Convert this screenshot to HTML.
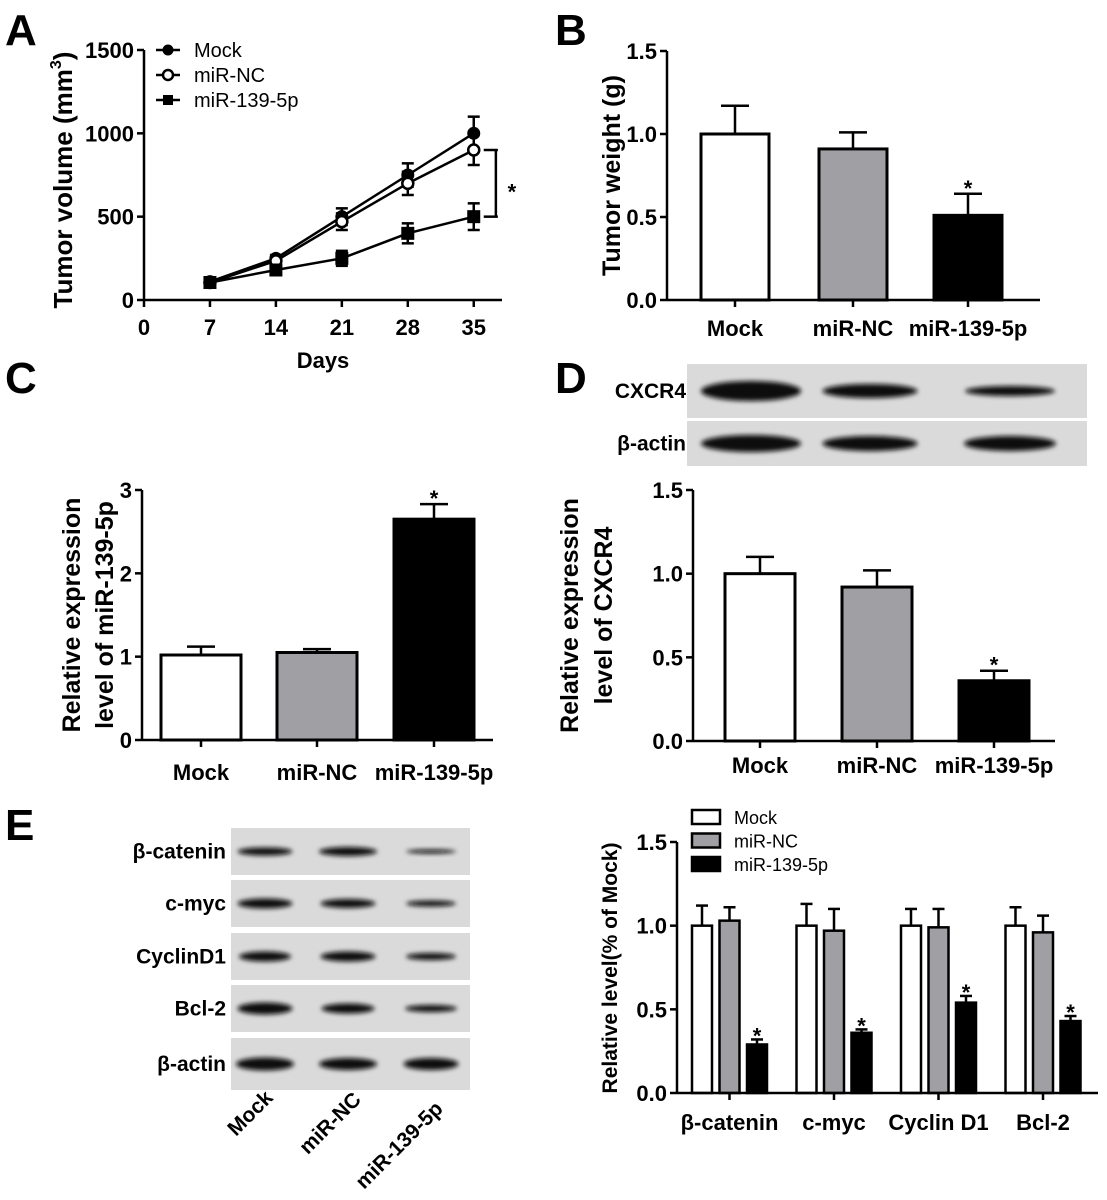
<!DOCTYPE html>
<html><head><meta charset="utf-8"><style>
html,body{margin:0;padding:0;background:#fff}
svg{display:block;font-family:"Liberation Sans",Arial,sans-serif}
.t{font-weight:bold;font-size:22px}
</style></head><body>
<svg id="fig" width="1107" height="1200" viewBox="0 0 1107 1200" xmlns="http://www.w3.org/2000/svg">
<defs><filter id="bl" x="-20%" y="-100%" width="140%" height="300%"><feGaussianBlur stdDeviation="2.5"/></filter></defs>
<g id="root"></g>
</svg>
<script>
// Panel A data
const daysA=[7,14,21,28,35];
const mockA=[110,250,500,750,1000];
const mockErrA=[0,20,50,70,100];
const ncA=[105,235,470,700,900];
const ncErrA=[0,20,50,70,90];
const mirA=[105,180,250,400,500];
const mirErrA=[0,20,45,60,80];
const xTicksA=[0,7,14,21,28,35];
const yTicksA=[0,500,1000,1500];
// Panel B
const groupsB=["Mock","miR-NC","miR-139-5p"];
const valsB=[1.0,0.91,0.51];
const errB=[0.17,0.10,0.13];
const yTicksB=[0.0,0.5,1.0,1.5];
// Panel C
const valsC=[1.02,1.05,2.65];
const errC=[0.10,0.04,0.18];
const yTicksC=[0,1,2,3];
// Panel D
const valsD=[1.0,0.92,0.36];
const errD=[0.10,0.10,0.06];
const yTicksD=[0.0,0.5,1.0,1.5];
// Panel E
const catsE=["β-catenin","c-myc","Cyclin D1","Bcl-2"];
const mockE=[1,1,1,1];
const mockErrE=[0.12,0.13,0.10,0.11];
const ncE=[1.03,0.97,0.99,0.96];
const ncErrE=[0.08,0.13,0.11,0.10];
const mirE=[0.29,0.36,0.54,0.43];
const mirErrE=[0.03,0.02,0.04,0.03];
const yTicksE=[0.0,0.5,1.0,1.5];

const NS="http://www.w3.org/2000/svg";
const root=document.getElementById('root');
function el(tag,attrs,parent,text){const e=document.createElementNS(NS,tag);for(const k in attrs)e.setAttribute(k,attrs[k]);if(text!==undefined)e.textContent=text;(parent||root).appendChild(e);return e;}
function line(x1,y1,x2,y2,p,w){return el('line',{x1,y1,x2,y2,stroke:'#000','stroke-width':w||2.5},p);}
function txt(x,y,s,p,extra){const a={x,y,'class':'t','text-anchor':'middle'};for(const k in extra)a[k]=extra[k];return el('text',a,p,s);}

[["A",5,45],["B",555,45],["C",5,393],["D",555,393],["E",5,840]].forEach(l=>{
 const t=el('text',{x:l[1],y:l[2],'font-size':'44','font-weight':'bold'},root,l[0]);
 
 
});

// ---------- Panel A ----------
{
const g=el('g',{});


const x0=144,x1=502,y0=300,y1=50;
const sx=v=>x0+v*(x1-x0)/38;
const sy=v=>y0-v*(y0-y1)/1500;
line(x0,y0,x1,y0,g);line(x0,y0+1,x0,y1,g);
xTicksA.forEach(v=>{line(sx(v),y0,sx(v),y0+7,g);txt(sx(v),y0+35,v,g);});
yTicksA.forEach(v=>{line(x0-7,sy(v),x0,sy(v),g);txt(x0-10,sy(v)+8,v,g,{'text-anchor':'end'});});
const xt=txt((x0+x1)/2,368,"Days",g,{'font-size':'25'});

const yt=el('text',{transform:'translate(72,180) rotate(-90)','text-anchor':'middle','font-size':'26','font-weight':'bold'},g);

yt.innerHTML='Tumor volume (mm<tspan dy="-11" font-size="16">3</tspan><tspan dy="11">)</tspan>';
const series=[[mockA,mockErrA,'circle'],[ncA,ncErrA,'open'],[mirA,mirErrA,'square']];
series.forEach((s,si)=>{
 const sg=el('g',{},g);
 
 
 el('polyline',{points:daysA.map((d,i)=>sx(d)+','+sy(s[0][i])).join(' '),fill:'none',stroke:'#000','stroke-width':2.5},sg);
 daysA.forEach((d,i)=>{
  const x=sx(d),y=sy(s[0][i]),e=s[1][i];
  if(e>0){line(x,sy(s[0][i]+e),x,sy(s[0][i]-e),sg);line(x-6,sy(s[0][i]+e),x+6,sy(s[0][i]+e),sg);line(x-6,sy(s[0][i]-e),x+6,sy(s[0][i]-e),sg);}
  let m;
  if(s[2]==='circle')m=el('circle',{cx:x,cy:y,r:6.5,fill:'#000'},sg);
  else if(s[2]==='open')m=el('circle',{cx:x,cy:y,r:5.5,fill:'#fff',stroke:'#000','stroke-width':2.5},sg);
  else m=el('rect',{x:x-6.5,y:y-6.5,width:13,height:13,fill:'#000'},sg);
  
  
 });
});
const bx=sx(36.5);
line(sx(35)+10,sy(ncA[4]),bx+10,sy(ncA[4]),g);line(sx(35)+10,sy(mirA[4]),bx+10,sy(mirA[4]),g);line(bx+8,sy(ncA[4]),bx+8,sy(mirA[4]),g);
txt(bx+24,sy((ncA[4]+mirA[4])/2)+16,"*",g,{'font-size':'30','font-weight':'normal'});
const lg=el('g',{},g);
["Mock","miR-NC","miR-139-5p"].forEach((n,i)=>{
 const y=50+i*25;line(156,y,180,y,lg);
 if(i===0)el('circle',{cx:168,cy:y,r:5.5,fill:'#000'},lg);
 else if(i===1)el('circle',{cx:168,cy:y,r:5,fill:'#fff',stroke:'#000','stroke-width':2.5},lg);
 else el('rect',{x:163,y:y-5,width:10,height:10,fill:'#000'},lg);
 const t=el('text',{x:194,y:y+7,'font-size':'20'},lg,n);
 
});
}

function barChart(name,opt){
 const g=el('g',{});
 
 
 const sy=v=>opt.y0-v*(opt.y0-opt.y1)/opt.ymax;
 opt.yTicks.forEach(v=>{line(opt.x0-7,sy(v),opt.x0,sy(v),g);txt(opt.x0-10,sy(v)+8,opt.fmt(v),g,{'text-anchor':'end'});});
 const fills=['#fff','#a0a0a4','#000'];
 opt.vals.forEach((v,i)=>{
  const cx=opt.cx[i],w=opt.w;
  const top=sy(v),et=sy(v+opt.err[i]);
  line(cx,top,cx,et,g);line(cx-14,et,cx+14,et,g);
  const r=el('rect',{x:cx-w/2,y:top,width:w,height:opt.y0-top,fill:fills[i],stroke:'#000','stroke-width':3},g);
  
  
  line(cx,opt.y0,cx,opt.y0+7,g);
  txt(cx,opt.labY,opt.groups[i],g);
  if(opt.star[i])txt(cx,et+2,"*",g,{'font-size':'30','font-weight':'normal'});
 });
 line(opt.x0,opt.y0,opt.xEnd,opt.y0,g);line(opt.x0,opt.y0+1,opt.x0,opt.y1,g);
 opt.title.forEach((t,k)=>{
  const tt=el('text',{transform:`translate(${opt.tx[k]},${(opt.y0+opt.y1)/2}) rotate(-90)`,'text-anchor':'middle','font-size':'25','font-weight':'bold'},g,t);
  
 });
}
const f1=v=>v.toFixed(1);
barChart('panel-b-bar-chart',{x0:667,xEnd:1040,y0:300,y1:51,ymax:1.5,yTicks:yTicksB,fmt:f1,vals:valsB,err:errB,groups:groupsB,cx:[735,853,968],w:68,labY:336,star:[0,0,1],title:["Tumor weight (g)"],tx:[620]});
barChart('panel-c-bar-chart',{x0:142,xEnd:493,y0:740,y1:490,ymax:3,yTicks:yTicksC,fmt:v=>String(v),vals:valsC,err:errC,groups:groupsB,cx:[201,317,434],w:80,labY:780,star:[0,0,1],title:["Relative expression","level of miR-139-5p"],tx:[80,113]});
barChart('panel-d-bar-chart',{x0:693,xEnd:1055,y0:741,y1:490,ymax:1.5,yTicks:yTicksD,fmt:f1,vals:valsD,err:errD,groups:groupsB,cx:[760,877,994],w:70,labY:773,star:[0,0,1],title:["Relative expression","level of CXCR4"],tx:[578,612]});

function blot(name,x,x2,strips,lanes,labels,labelX,widths,heights){
 const g=el('g',{});
 
 
 strips.forEach((s,si)=>{
  el('rect',{x:x,y:s[0],width:x2-x,height:s[1]-s[0],fill:'#dadada'},g);
  lanes.forEach((lx,li)=>{
   const b=el('ellipse',{cx:lx,cy:(s[0]+s[1])/2,rx:widths[si][li]/2,ry:heights[si][li]/2,fill:'#0d0d0d',filter:'url(#bl)'},g);
   
   
  });
  const t=el('text',{x:labelX,y:(s[0]+s[1])/2+7,'text-anchor':'end','font-size':'21','font-weight':'bold'},g,labels[si]);
  
 });
}
blot('panel-d-western-blot',687,1087,[[364,418],[421,466]],[751,870,1010],["CXCR4","β-actin"],686,[[100,95,90],[100,95,92]],[[20,14,10],[17,15,15]]);
blot('panel-e-western-blot',231,470,[[828,875],[880,927],[933,980],[985,1032],[1038,1090]],[265,348,431],["β-catenin","c-myc","CyclinD1","Bcl-2","β-actin"],226,
 [[55,58,50],[55,55,50],[52,55,50],[55,53,52],[58,58,55]],[[8,9,4],[10,9,6],[10,10,7],[12,10,7],[13,12,12]]);
[["Mock",255,1118],["miR-NC",335,1128],["miR-139-5p",404,1150]].forEach(l=>{
 const t=el('text',{transform:`translate(${l[1]},${l[2]}) rotate(-45)`,'text-anchor':'middle','font-size':'21','font-weight':'bold'},root,l[0]);
 
});

{
const g=el('g',{});


const x0=677,xEnd=1098,y0=1093,y1=842;
const sy=v=>y0-v*(y0-y1)/1.5;
yTicksE.forEach(v=>{line(x0-7,sy(v),x0,sy(v),g);txt(x0-10,sy(v)+8,v.toFixed(1),g,{'text-anchor':'end'});});
const fills=['#fff','#a0a0a4','#000'];
const sets=[[mockE,mockErrE],[ncE,ncErrE],[mirE,mirErrE]];
catsE.forEach((c,ci)=>{
 const base=702+ci*104.5;
 sets.forEach((s,si)=>{
  const cx=base+si*27.5,v=s[0][ci],top=sy(v),et=sy(v+s[1][ci]);
  line(cx,top,cx,et,g,2.5);line(cx-6,et,cx+6,et,g,2.5);
  const r=el('rect',{x:cx-10,y:top,width:20,height:y0-top,fill:fills[si],stroke:'#000','stroke-width':2.5},g);
  
  
  if(si===2)txt(cx,et+4,"*",g,{'font-size':'30','font-weight':'normal'});
 });
 line(base+27.5,y0,base+27.5,y0+7,g);
 txt(base+27.5,1130,c,g);
});
line(x0,y0,xEnd,y0,g);line(x0,y0+1,x0,y1,g);
const yt=el('text',{transform:'translate(617,968) rotate(-90)','text-anchor':'middle','font-size':'21','font-weight':'bold'},g,"Relative level(% of Mock)");

const lg=el('g',{},g);
["Mock","miR-NC","miR-139-5p"].forEach((n,i)=>{
 const y=810+i*23.5;
 el('rect',{x:692,y:y,width:28,height:14,fill:fills[i],stroke:'#000','stroke-width':2.5},lg);
 const t=el('text',{x:734,y:y+14,'font-size':'18'},lg,n);
 
});
}
</script>
</body></html>
